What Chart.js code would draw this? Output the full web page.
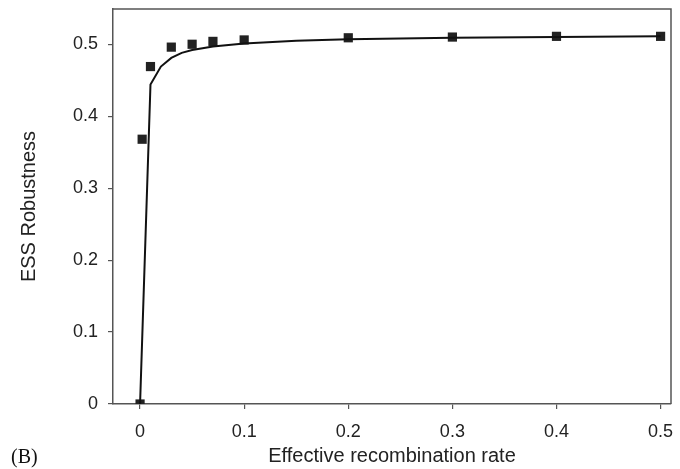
<!DOCTYPE html>
<html>
<head>
<meta charset="utf-8">
<script src="https://cdn.jsdelivr.net/npm/chart.js@4/dist/chart.umd.min.js"></script>
<style>
html,body{margin:0;padding:0;background:#fff;}
#wrap{width:680px;height:469px;position:relative;}
</style>
</head>
<body>
<div id="wrap"><canvas id="c" width="680" height="469"></canvas></div>
<script>
// Simulation results (squares)
const pointX = [0, 0.002, 0.01, 0.03, 0.05, 0.07, 0.1, 0.2, 0.3, 0.4, 0.5];
const pointY = [0, 0.368, 0.469, 0.496, 0.500, 0.504, 0.506, 0.509, 0.510, 0.511, 0.511];
// Analytical curve (line)
const curveX = [0, 0.01, 0.02, 0.03, 0.04, 0.05, 0.07, 0.1, 0.15, 0.2, 0.3, 0.4, 0.5];
const curveY = [0, 0.444, 0.469, 0.481, 0.488, 0.492, 0.497, 0.501, 0.505, 0.507, 0.509, 0.510, 0.511];
// Tick labels
const xTicks = [0, 0.1, 0.2, 0.3, 0.4, 0.5];
const yTicks = [0, 0.1, 0.2, 0.3, 0.4, 0.5];
const xTitle = 'Effective recombination rate';
const yTitle = 'ESS Robustness';
const panelLabel = '(B)';

const fmt = v => v === 0 ? '0' : Number(v).toFixed(1);
const sans = '"Liberation Sans", Arial, Helvetica, sans-serif';

const framePlugin = {
  id: 'frame',
  afterDraw(chart) {
    const {ctx, chartArea: a} = chart;
    ctx.save();
    ctx.strokeStyle = '#555';
    ctx.lineWidth = 1.5;
    ctx.beginPath();
    ctx.moveTo(a.left, a.top);
    ctx.lineTo(a.right, a.top);
    ctx.lineTo(a.right, a.bottom);
    ctx.stroke();
    ctx.fillStyle = '#111';
    ctx.font = '20px "Liberation Serif", "Times New Roman", serif';
    ctx.textBaseline = 'alphabetic';
    ctx.textAlign = 'left';
    ctx.fillText(panelLabel, 11, 463);
    ctx.restore();
  }
};

new Chart(document.getElementById('c'), {
  type: 'scatter',
  data: {
    datasets: [
      {
        type: 'line',
        data: curveX.map((x, i) => ({x, y: curveY[i]})),
        borderColor: '#111',
        borderWidth: 2,
        pointRadius: 0,
        tension: 0,
        fill: false
      },
      {
        data: pointX.map((x, i) => ({x, y: pointY[i]})),
        pointStyle: 'rect',
        pointRadius: 6.5,
        backgroundColor: '#222',
        borderColor: '#222',
        borderWidth: 0
      }
    ]
  },
  plugins: [framePlugin],
  options: {
    responsive: false,
    animation: false,
    layout: {padding: {top: 9, right: 9, left: 0, bottom: 0}},
    plugins: {legend: {display: false}, tooltip: {enabled: false}},
    scales: {
      x: {
        type: 'linear',
        min: -0.026,
        max: 0.51,
        afterBuildTicks: s => { s.ticks = xTicks.map(v => ({value: v})); },
        afterFit: s => { s.height = 65; s.paddingLeft = 0; s.paddingRight = 0; },
        border: {color: '#555', width: 1.5},
        grid: {drawOnChartArea: false, tickLength: 5, color: '#555', lineWidth: 1.2},
        ticks: {callback: fmt, color: '#222', font: {family: sans, size: 18}, padding: 12, maxRotation: 0},
        title: {display: true, text: xTitle, color: '#222', font: {family: sans, size: 20}, padding: {top: 0, bottom: 1}}
      },
      y: {
        type: 'linear',
        min: 0,
        max: 0.549,
        afterBuildTicks: s => { s.ticks = yTicks.map(v => ({value: v})); },
        afterFit: s => { s.width = 113; s.paddingTop = 0; s.paddingBottom = 0; },
        border: {color: '#555', width: 1.5},
        grid: {drawOnChartArea: false, tickLength: 5, color: '#555', lineWidth: 1.2},
        ticks: {callback: fmt, color: '#222', font: {family: sans, size: 18}, padding: 10},
        title: {display: true, text: yTitle, color: '#222', font: {family: sans, size: 20}, padding: {top: 17, bottom: 0}}
      }
    }
  }
});
</script>
</body>
</html>
